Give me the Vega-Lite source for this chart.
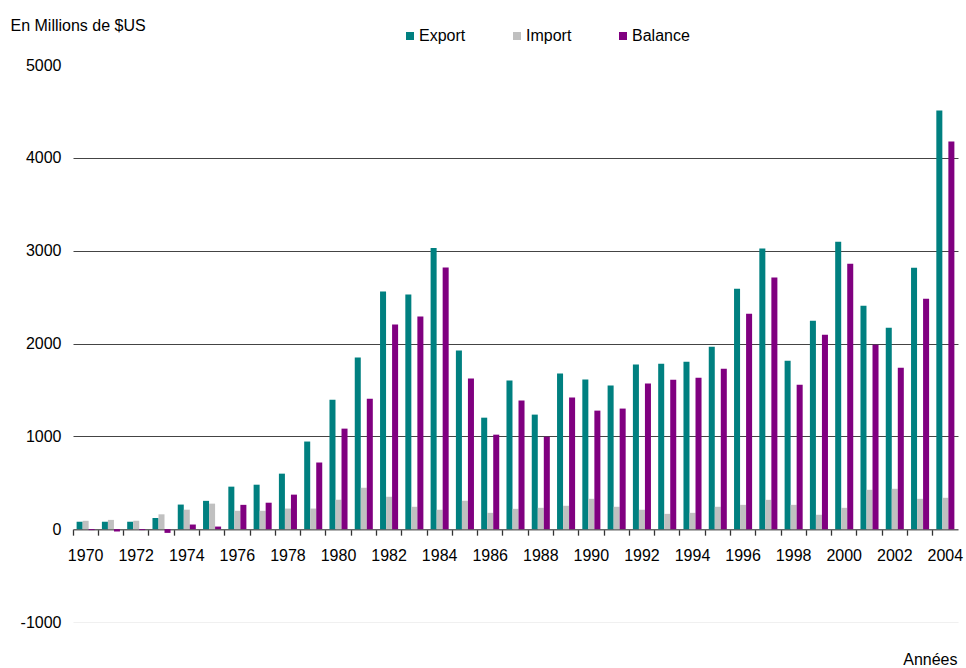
{
  "$schema": "https://vega.github.io/schema/vega-lite/v6.json",
  "autosize": {"type": "none"},
  "width": 885,
  "height": 557,
  "padding": {"left": 73, "top": 65, "right": 8, "bottom": 46},
  "background": "white",
  "config": {
    "view": {"stroke": null},
    "font": "Liberation Sans",
    "axis": {"labelFont": "Liberation Sans", "titleFont": "Liberation Sans", "labelColor": "#000", "titleColor": "#000"},
    "legend": {"labelFont": "Liberation Sans"}
  },
  "data": {"values": [
    {"year": 1970, "type": "Export", "value": 80}, {"year": 1970, "type": "Import", "value": 90}, {"year": 1970, "type": "Balance", "value": -10},
    {"year": 1971, "type": "Export", "value": 80}, {"year": 1971, "type": "Import", "value": 100}, {"year": 1971, "type": "Balance", "value": -25},
    {"year": 1972, "type": "Export", "value": 80}, {"year": 1972, "type": "Import", "value": 90}, {"year": 1972, "type": "Balance", "value": -10},
    {"year": 1973, "type": "Export", "value": 120}, {"year": 1973, "type": "Import", "value": 160}, {"year": 1973, "type": "Balance", "value": -40},
    {"year": 1974, "type": "Export", "value": 265}, {"year": 1974, "type": "Import", "value": 210}, {"year": 1974, "type": "Balance", "value": 50},
    {"year": 1975, "type": "Export", "value": 305}, {"year": 1975, "type": "Import", "value": 275}, {"year": 1975, "type": "Balance", "value": 28},
    {"year": 1976, "type": "Export", "value": 458}, {"year": 1976, "type": "Import", "value": 198}, {"year": 1976, "type": "Balance", "value": 262},
    {"year": 1977, "type": "Export", "value": 479}, {"year": 1977, "type": "Import", "value": 198}, {"year": 1977, "type": "Balance", "value": 285},
    {"year": 1978, "type": "Export", "value": 598}, {"year": 1978, "type": "Import", "value": 222}, {"year": 1978, "type": "Balance", "value": 372},
    {"year": 1979, "type": "Export", "value": 944}, {"year": 1979, "type": "Import", "value": 222}, {"year": 1979, "type": "Balance", "value": 718},
    {"year": 1980, "type": "Export", "value": 1395}, {"year": 1980, "type": "Import", "value": 317}, {"year": 1980, "type": "Balance", "value": 1083},
    {"year": 1981, "type": "Export", "value": 1849}, {"year": 1981, "type": "Import", "value": 446}, {"year": 1981, "type": "Balance", "value": 1406},
    {"year": 1982, "type": "Export", "value": 2561}, {"year": 1982, "type": "Import", "value": 349}, {"year": 1982, "type": "Balance", "value": 2205},
    {"year": 1983, "type": "Export", "value": 2529}, {"year": 1983, "type": "Import", "value": 241}, {"year": 1983, "type": "Balance", "value": 2291},
    {"year": 1984, "type": "Export", "value": 3030}, {"year": 1984, "type": "Import", "value": 209}, {"year": 1984, "type": "Balance", "value": 2820},
    {"year": 1985, "type": "Export", "value": 1924}, {"year": 1985, "type": "Import", "value": 306}, {"year": 1985, "type": "Balance", "value": 1622},
    {"year": 1986, "type": "Export", "value": 1201}, {"year": 1986, "type": "Import", "value": 176}, {"year": 1986, "type": "Balance", "value": 1018},
    {"year": 1987, "type": "Export", "value": 1601}, {"year": 1987, "type": "Import", "value": 219}, {"year": 1987, "type": "Balance", "value": 1385},
    {"year": 1988, "type": "Export", "value": 1234}, {"year": 1988, "type": "Import", "value": 230}, {"year": 1988, "type": "Balance", "value": 996},
    {"year": 1989, "type": "Export", "value": 1676}, {"year": 1989, "type": "Import", "value": 252}, {"year": 1989, "type": "Balance", "value": 1417},
    {"year": 1990, "type": "Export", "value": 1612}, {"year": 1990, "type": "Import", "value": 327}, {"year": 1990, "type": "Balance", "value": 1277},
    {"year": 1991, "type": "Export", "value": 1547}, {"year": 1991, "type": "Import", "value": 241}, {"year": 1991, "type": "Balance", "value": 1299},
    {"year": 1992, "type": "Export", "value": 1773}, {"year": 1992, "type": "Import", "value": 209}, {"year": 1992, "type": "Balance", "value": 1568},
    {"year": 1993, "type": "Export", "value": 1783}, {"year": 1993, "type": "Import", "value": 165}, {"year": 1993, "type": "Balance", "value": 1610},
    {"year": 1994, "type": "Export", "value": 1804}, {"year": 1994, "type": "Import", "value": 176}, {"year": 1994, "type": "Balance", "value": 1631},
    {"year": 1995, "type": "Export", "value": 1965}, {"year": 1995, "type": "Import", "value": 241}, {"year": 1995, "type": "Balance", "value": 1728},
    {"year": 1996, "type": "Export", "value": 2591}, {"year": 1996, "type": "Import", "value": 262}, {"year": 1996, "type": "Balance", "value": 2321},
    {"year": 1997, "type": "Export", "value": 3022}, {"year": 1997, "type": "Import", "value": 316}, {"year": 1997, "type": "Balance", "value": 2710},
    {"year": 1998, "type": "Export", "value": 1815}, {"year": 1998, "type": "Import", "value": 262}, {"year": 1998, "type": "Balance", "value": 1556},
    {"year": 1999, "type": "Export", "value": 2246}, {"year": 1999, "type": "Import", "value": 155}, {"year": 1999, "type": "Balance", "value": 2095},
    {"year": 2000, "type": "Export", "value": 3097}, {"year": 2000, "type": "Import", "value": 230}, {"year": 2000, "type": "Balance", "value": 2860},
    {"year": 2001, "type": "Export", "value": 2407}, {"year": 2001, "type": "Import", "value": 424}, {"year": 2001, "type": "Balance", "value": 1987},
    {"year": 2002, "type": "Export", "value": 2170}, {"year": 2002, "type": "Import", "value": 435}, {"year": 2002, "type": "Balance", "value": 1739},
    {"year": 2003, "type": "Export", "value": 2817}, {"year": 2003, "type": "Import", "value": 327}, {"year": 2003, "type": "Balance", "value": 2483},
    {"year": 2004, "type": "Export", "value": 4510}, {"year": 2004, "type": "Import", "value": 338}, {"year": 2004, "type": "Balance", "value": 4175}
  ]},
  "mark": {"type": "bar"},
  "encoding": {
    "x": {
      "field": "year", "type": "ordinal",
      "scale": {"paddingInner": 0, "paddingOuter": 0},
      "axis": {
        "offset": -92.83,
        "bandPosition": 0,
        "labelAngle": 0,
        "labelExpr": "datum.value % 2 == 0 ? datum.label : ''",
        "labelFontSize": 16,
        "labelPadding": 12,
        "tickSize": 6,
        "tickColor": "#333",
        "tickWidth": 1.3,
        "domainColor": "#666",
        "domainWidth": 1.5,
        "grid": false,
        "title": "Années",
        "titleFontSize": 16,
        "titleFontWeight": "normal",
        "titleAlign": "right",
        "titleBaseline": "alphabetic",
        "titleX": 884,
        "titleY": 135.5
      }
    },
    "xOffset": {
      "field": "type", "type": "nominal",
      "sort": ["Export", "Import", "Balance"],
      "scale": {"paddingInner": 0, "paddingOuter": 0.6}
    },
    "y": {
      "field": "value", "type": "quantitative",
      "scale": {"domain": [-1000, 5000], "nice": false},
      "axis": {
        "values": [-1000, 0, 1000, 2000, 3000, 4000, 5000],
        "labelExpr": "'' + datum.value",
        "domain": false,
        "ticks": false,
        "labelPadding": 12,
        "labelFontSize": 16,
        "grid": true,
        "gridColor": {"condition": {"test": "datum.value == -1000", "value": "#f0f0f0"}, "value": "#444"},
        "gridOpacity": {"condition": {"test": "datum.value == 0 || datum.value == 5000", "value": 0}, "value": 1},
        "gridWidth": 1.2,
        "title": "En Millions de $US",
        "titleFontSize": 16,
        "titleFontWeight": "normal",
        "titleAngle": 0,
        "titleAlign": "left",
        "titleBaseline": "alphabetic",
        "titleX": -63,
        "titleY": -35
      }
    },
    "color": {
      "field": "type", "type": "nominal",
      "sort": ["Export", "Import", "Balance"],
      "scale": {"domain": ["Export", "Import", "Balance"], "range": ["#008080", "#C0C0C0", "#800080"]},
      "legend": {
        "title": null,
        "orient": "none",
        "direction": "horizontal",
        "legendX": 329,
        "legendY": -37,
        "padding": 0,
        "symbolType": "square",
        "symbolSize": 64,
        "symbolStrokeWidth": 0,
        "symbolOpacity": 1,
        "labelFontSize": 16,
        "labelOffset": 1,
        "columnPadding": 43,
        "labelColor": "#000"
      }
    }
  }
}
